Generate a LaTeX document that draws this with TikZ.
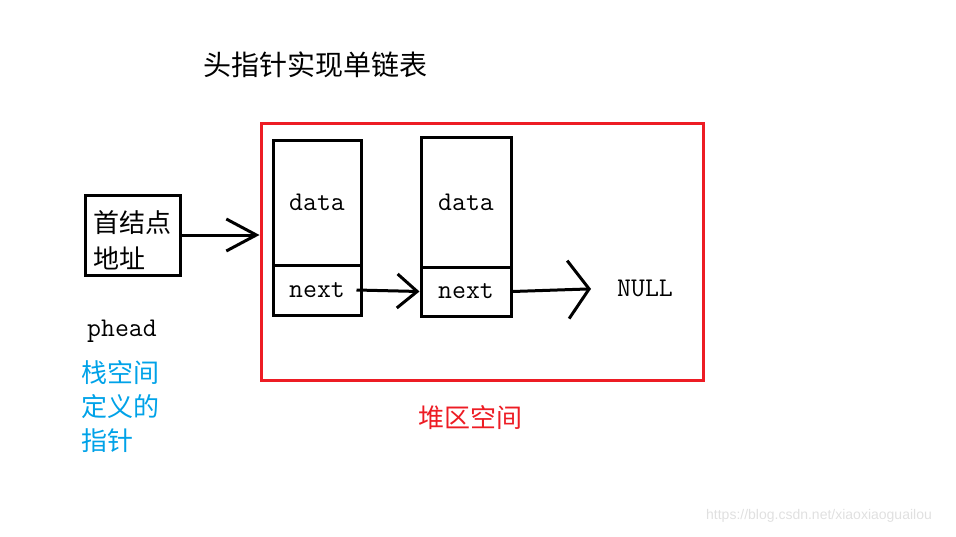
\documentclass[tikz,border=0pt]{standalone}
\usepackage{fontspec}
\setmainfont{Liberation Serif}
\newfontfamily\cjk{Noto Sans CJK SC}
\newfontfamily\markfont{Liberation Sans}
\usetikzlibrary{arrows.meta}
\definecolor{heapRed}{RGB}{237,28,36}
\definecolor{stackBlue}{RGB}{0,162,232}

\begin{document}
\begin{tikzpicture}[x=1pt, y=-1pt,
    cellStyle/.style={draw, line width=3pt, inner sep=0pt, font=\ttfamily\fontsize{27}{30}\selectfont},
    cjkStyle/.style={font=\cjk\fontsize{26}{34}\selectfont, inner sep=0pt},
    linkStyle/.style={line width=3pt}]
    \useasboundingbox (0,0) rectangle (956,536);

    \node[cjkStyle, font=\cjk\fontsize{28}{34}\selectfont](title) at (315, 65) {头指针实现单链表};

    \node[draw=heapRed, line width=3pt, minimum width=442pt, minimum height=257pt](heap) at (482, 251.5) {};
    \node[cjkStyle, text=heapRed](heapLabel) at (470, 418) {堆区空间};

    \node[draw, line width=3pt, minimum width=95pt, minimum height=80pt, align=left,
          cjkStyle, font=\cjk\fontsize{26}{36}\selectfont](headBox) at (132.5, 235) {\rule{0pt}{33pt}首结点\\地址};
    \node[font=\ttfamily\fontsize{27}{30}\selectfont](phead) at (122, 331) {phead};
    \node[cjkStyle, align=left, text=stackBlue](stackLabel) at (120, 407) {栈空间\\定义的\\指针};

    \node[cellStyle, minimum width=88pt, minimum height=125pt](data1) at (317, 202.5) {data};
    \node[cellStyle, minimum width=88pt, minimum height=50pt](next1) at (317, 290) {next};
    \node[cellStyle, minimum width=90pt, minimum height=130pt](data2) at (466, 202) {data};
    \node[cellStyle, minimum width=90pt, minimum height=49pt](next2) at (466, 291.5) {next};

    \node[font=\ttfamily\fontsize{27}{30}\selectfont, inner sep=0pt](null) at (645, 288) {NULL};

    \draw[linkStyle, -{Straight Barb[length=30pt, width=32pt, line width=3pt]}]
        (headBox.east) -- (headBox.east -| heap.west);
    \draw[linkStyle, -{Straight Barb[length=20pt, width=34pt, line width=3pt]}]
        ([xshift=-6pt]next1.east) -- (next2.west);
    \draw[linkStyle, -{Straight Barb[length=21pt, width=58pt, line width=3pt]}, shorten >=26pt]
        (next2.east) -- (null.west);

    \node[font=\markfont\fontsize{14}{16}\selectfont, text=black!12](mark) at (819, 516) {https://blog.csdn.net/xiaoxiaoguailou};
\end{tikzpicture}
\end{document}
